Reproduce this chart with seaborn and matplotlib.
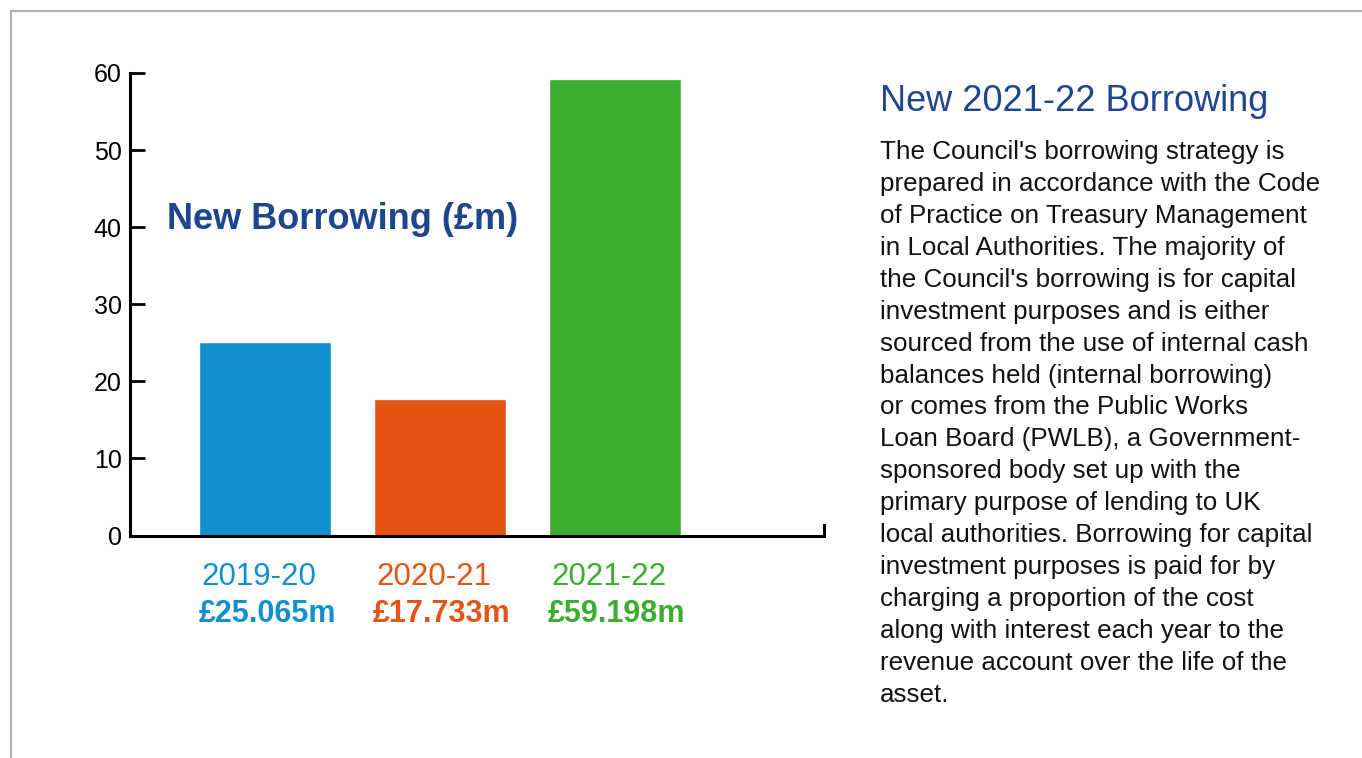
import matplotlib
matplotlib.use("Agg")
import matplotlib.pyplot as plt
from matplotlib.lines import Line2D
import seaborn as sns
import pandas as pd

# Data
years = ["2019-20", "2020-21", "2021-22"]
borrowing = [25.065, 17.733, 59.198]
value_labels = ["£25.065m", "£17.733m", "£59.198m"]
bar_colors = ["#118fcf", "#e55413", "#3cae2f"]
y_ticks = [0, 10, 20, 30, 40, 50, 60]

chart_title = "New Borrowing (£m)"
side_title = "New 2021-22 Borrowing"
side_lines = [
    "The Council's borrowing strategy is",
    "prepared in accordance with the Code",
    "of Practice on Treasury Management",
    "in Local Authorities. The majority of",
    "the Council's borrowing is for capital",
    "investment purposes and is either",
    "sourced from the use of internal cash",
    "balances held (internal borrowing)",
    "or comes from the Public Works",
    "Loan Board (PWLB), a Government-",
    "sponsored body set up with the",
    "primary purpose of lending to UK",
    "local authorities. Borrowing for capital",
    "investment purposes is paid for by",
    "charging a proportion of the cost",
    "along with interest each year to the",
    "revenue account over the life of the",
    "asset.",
]

df = pd.DataFrame({"year": years, "borrowing": borrowing})

sns.set_theme(style="white")
plt.rcParams["font.family"] = ["Liberation Sans", "DejaVu Sans"]

W, H = 1362, 758
fig = plt.figure(figsize=(W / 100, H / 100), dpi=100)
fig.patch.set_facecolor("white")

# Axes placed in pixel terms
left_px, right_px, top_px, bottom_px = 129.5, 824, 73, 535.5
ax = fig.add_axes([left_px / W, 1 - bottom_px / H,
                   (right_px - left_px) / W, (bottom_px - top_px) / H])

sns.barplot(data=df, x="year", y="borrowing", hue="year",
            palette=bar_colors, width=0.754, saturation=1,
            legend=False, ax=ax)

ax.set_xlim(-0.777, 3.194)
ax.set_ylim(0, 60)
ax.set_yticks(y_ticks)
ax.set_xticks([])
ax.set_xlabel("")
ax.set_ylabel("")

ax.spines["top"].set_visible(False)
for side in ["left", "bottom", "right"]:
    ax.spines[side].set_visible(True)
    ax.spines[side].set_color("black")
    ax.spines[side].set_linewidth(2.2)
ax.spines["right"].set_bounds(0, 1.3)
ax.spines["left"].set_capstyle("projecting")
ax.spines["bottom"].set_capstyle("projecting")

ax.tick_params(axis="y", direction="in", length=10.5, width=2, color="black",
               labelsize=18, labelcolor="black", pad=5.5, left=True)
ax.set_facecolor("white")

# Year and value labels under each bar
px_per_unit = (bottom_px - top_px) / 60
year_y = -(585 - bottom_px) / px_per_unit
value_y = -(622 - bottom_px) / px_per_unit
for i, (yr, lab, col) in enumerate(zip(years, value_labels, bar_colors)):
    ax.text(i - 0.035, year_y, yr, color=col, fontsize=22.5, ha="center",
            va="baseline", clip_on=False)
    ax.text(i + 0.01, value_y, lab, color=col, fontsize=22, fontweight="bold",
            ha="center", va="baseline", clip_on=False)

# Chart heading inside the plot
fig.text(166.7 / W, 1 - 229.3 / H, chart_title, color="#1f4590",
         fontsize=26, fontweight="bold", ha="left", va="baseline")

# Side panel text
fig.text(880 / W, 1 - 110.7 / H, side_title, color="#1f4590",
         fontsize=26, ha="left", va="baseline")
for k, line in enumerate(side_lines):
    fig.text(880 / W, 1 - (159.3 + k * 31.9) / H, line, color="#111111",
             fontsize=18.7, ha="left", va="baseline")

# Page frame on top and left edges
frame_col = "#b3b3b3"
fig.add_artist(Line2D([11 / W, 1], [1 - 11 / H, 1 - 11 / H],
                      transform=fig.transFigure, color=frame_col, lw=1.6))
fig.add_artist(Line2D([11 / W, 11 / W], [0, 1 - 11 / H],
                      transform=fig.transFigure, color=frame_col, lw=1.6))

fig.savefig("out.png", dpi=100, facecolor="white")
